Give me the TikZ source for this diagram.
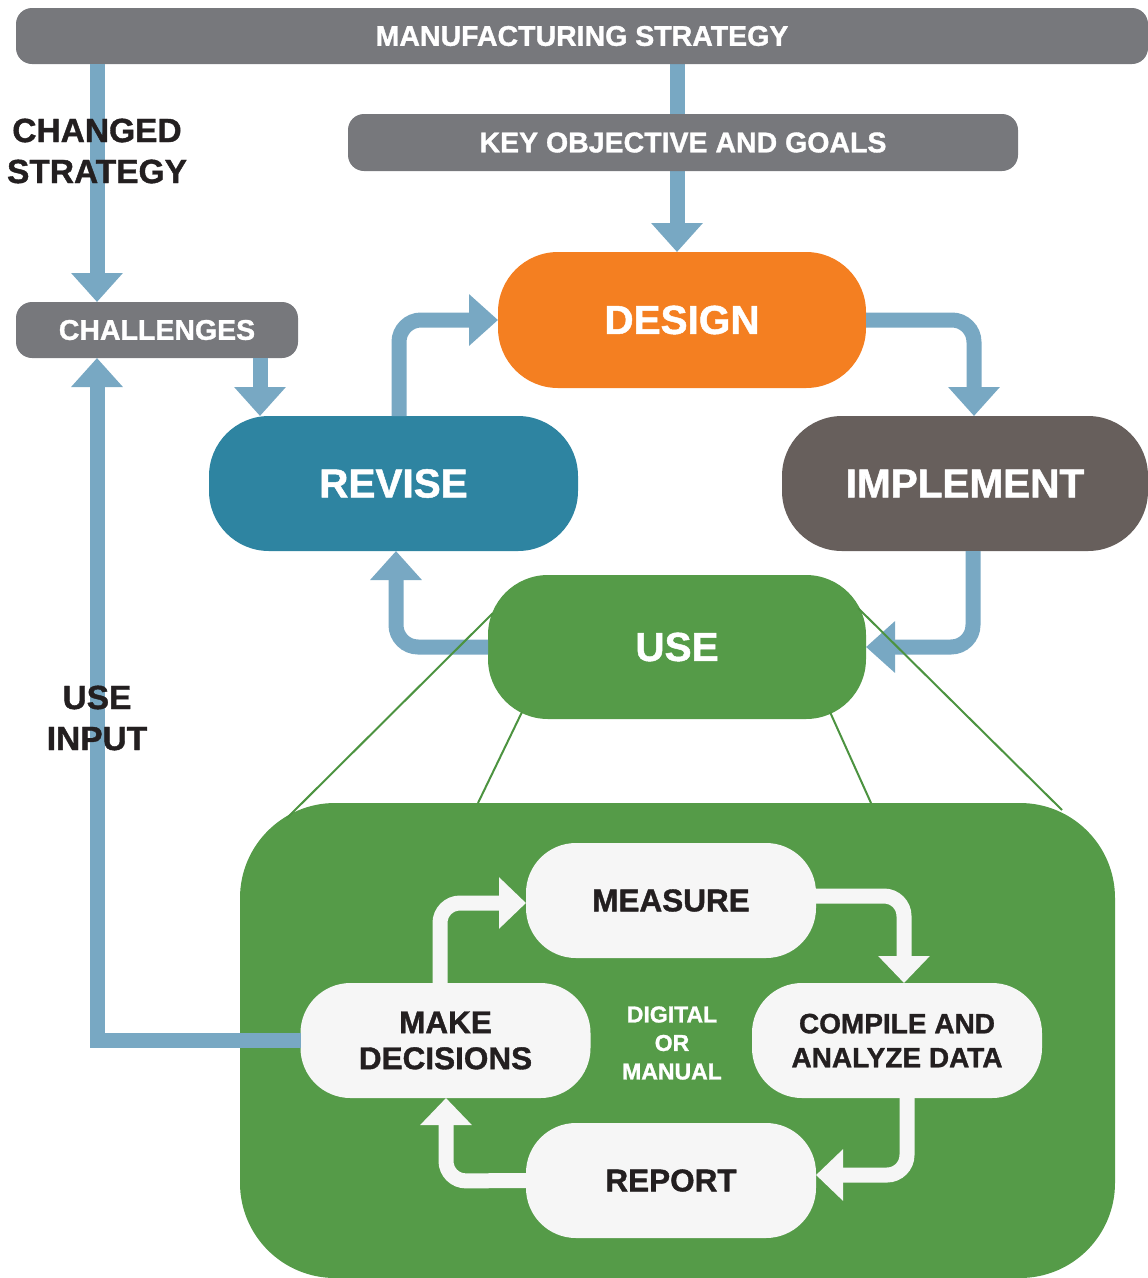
\documentclass[tikz,border=0pt]{standalone}
\usepackage{fontspec}
\setmainfont{Liberation Sans}[BoldFeatures={FakeBold=1.2}]
\usetikzlibrary{arrows.meta,backgrounds}
\definecolor{cgray}{HTML}{77787C}
\definecolor{cblue}{HTML}{78A8C3}
\definecolor{corange}{HTML}{F47F21}
\definecolor{cteal}{HTML}{2E84A1}
\definecolor{cimpl}{HTML}{675F5C}
\definecolor{cgreen}{HTML}{559B48}
\definecolor{cline}{HTML}{4C9340}
\definecolor{cwhite}{HTML}{F6F6F6}
\definecolor{cdark}{HTML}{231F20}
\begin{document}
\begin{tikzpicture}[x=1pt,y=-1pt,
  graybar/.style={fill=cgray, rounded corners=16pt, text=white, inner sep=0pt, outer sep=0pt,
    font=\fontsize{28.5}{34}\selectfont\bfseries},
  cyc/.style={rounded corners=60pt, text=white, inner sep=0pt, outer sep=0pt,
    font=\fontsize{40.5}{48}\selectfont\bfseries},
  wbox/.style={fill=cwhite, rounded corners=50pt, text=cdark, inner sep=0pt, outer sep=0pt,
    minimum width=290pt, minimum height=115pt, align=center,
    font=\fontsize{31.5}{36}\selectfont\bfseries},
  blab/.style={text=cdark, align=center, inner sep=0pt,
    font=\fontsize{33.5}{41}\selectfont\bfseries},
  barrow/.style={draw=cblue, line width=15pt, -{Triangle[width=50pt,length=29pt]}},
  warrow/.style={draw=cwhite, line width=15pt, -{Triangle[width=50pt,length=27pt]}},
  gline/.style={draw=cline, line width=2pt}
]
\useasboundingbox (0,0) rectangle (1148,1278);

% top gray bars and main cycle
\node[graybar, minimum width=1132pt, minimum height=56pt] (ms) at (582,36) {MANUFACTURING STRATEGY};
\node[graybar, minimum width=670pt, minimum height=57pt] (key) at (683,142.5) {KEY OBJECTIVE AND GOALS};
\node[graybar, minimum width=282pt, minimum height=56pt] (chal) at (157,330) {CHALLENGES};
\node[cyc, fill=corange, minimum width=368pt, minimum height=136pt] (design) at (682,320) {DESIGN};
\node[cyc, fill=cteal, minimum width=369pt, minimum height=135pt] (revise) at (393.5,483.5) {REVISE};
\node[cyc, fill=cimpl, minimum width=366pt, minimum height=135pt] (impl) at (965,483.5) {IMPLEMENT};
\node[cyc, fill=cgreen, minimum width=378pt, minimum height=144pt] (use) at (677,647) {USE};

% big green detail box
\node[fill=cgreen, rounded corners=95pt, inner sep=0pt, outer sep=0pt,
  minimum width=875pt, minimum height=475pt] (big) at (677.5,1040.5) {};
\node[wbox] (meas) at (671,900.5) {MEASURE};
\node[wbox] (make) at (445.5,1040.5) {MAKE\\DECISIONS};
\node[wbox, font=\fontsize{28}{34}\selectfont\bfseries] (comp) at (897,1040.5) {COMPILE AND\\ANALYZE DATA};
\node[wbox] (rep) at (671,1180.5) {REPORT};
\node[text=white, align=center, inner sep=0pt, font=\fontsize{23}{28.5}\selectfont\bfseries] (dig) at (672,1043) {DIGITAL\\OR\\MANUAL};

% arrow behind key objective box
\begin{scope}[on background layer]
\draw[barrow] (ms.south -| 677,0) -- (design.north -| 677,0);
\end{scope}

% blue arrows
\draw[barrow] (ms.south -| 97,0) -- (chal.north -| 97,0);
\draw[barrow] (chal.south -| 260,0) -- (revise.north -| 260,0);
\draw[barrow] (make.west) -- (97,1040.5) -- (chal.south -| 97,0);
\draw[barrow, rounded corners=22pt] (revise.north -| 399,0) -- (399,320) -- (design.west);
\draw[barrow, rounded corners=22pt] (design.east) -- (974,320) -- (impl.north -| 974,0);
\draw[barrow, rounded corners=22pt] (impl.south -| 973,0) -- (973,647) -- (use.east);
\draw[barrow, rounded corners=22pt] (use.west) -- (396,647) -- (revise.south -| 396,0);

% zoom lines from USE to the detail box
\coordinate (la) at (493,613);
\coordinate (lb) at (287,818);
\coordinate (ra) at (858,608);
\coordinate (rb) at (1062,810);
\coordinate (ia) at (522,712);
\coordinate (ib) at (478,803);
\coordinate (ja) at (830,712);
\coordinate (jb) at (871,803);
\draw[gline] (la) -- (lb);
\draw[gline] (ra) -- (rb);
\draw[gline] (ia) -- (ib);
\draw[gline] (ja) -- (jb);

% white arrows
\draw[warrow, rounded corners=20pt] (make.north -| 440,0) -- (440,903) -- ([yshift=-2.5pt]meas.west);
\draw[warrow, rounded corners=20pt] ([yshift=4.5pt]meas.east) -- (904,896) -- (comp.north -| 904,0);
\draw[warrow, rounded corners=20pt] (comp.south -| 907,0) -- (907,1175) -- ([yshift=5.5pt]rep.east);
\draw[warrow, rounded corners=20pt] (rep.west) -- (446,1181) -- (make.south -| 446,0);

% side labels
\node[blab] (cs) at (97,151) {CHANGED\\STRATEGY};
\node[blab] (ui) at (97,718) {USE\\INPUT};
\end{tikzpicture}
\end{document}
